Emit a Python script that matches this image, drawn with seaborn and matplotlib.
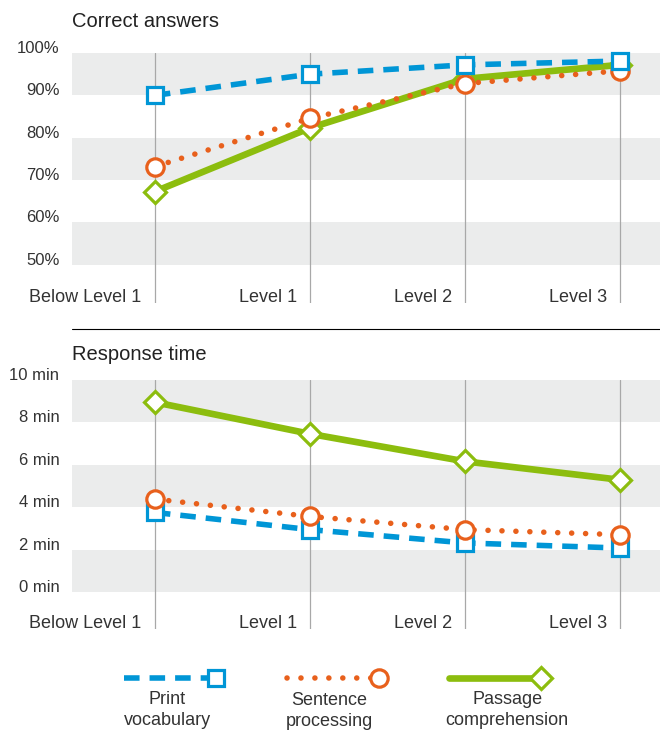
import numpy as np
import seaborn as sns
import matplotlib.pyplot as plt
from matplotlib.lines import Line2D
from matplotlib.legend_handler import HandlerLine2D

levels = ['Below Level 1', 'Level 1', 'Level 2', 'Level 3']
series = ['Print vocabulary', 'Sentence processing', 'Passage comprehension']
legend_labels = ['Print\nvocabulary', 'Sentence\nprocessing', 'Passage\ncomprehension']

# Correct answers (%)
correct_print = [90.0, 95.0, 97.2, 98.1]
correct_sentence = [73.2, 84.6, 92.8, 95.8]
correct_passage = [67.3, 82.3, 93.9, 97.2]

# Response time (min)
time_print = [3.75, 2.94, 2.31, 2.07]
time_sentence = [4.38, 3.56, 2.94, 2.70]
time_passage = [8.95, 7.46, 6.16, 5.29]

pct_ticks = [50, 60, 70, 80, 90, 100]
pct_labels = ['50%', '60%', '70%', '80%', '90%', '100%']
min_ticks = [0, 2, 4, 6, 8, 10]
min_labels = ['0 min', '2 min', '4 min', '6 min', '8 min', '10 min']

sns.set_theme(style='white')
plt.rcParams['font.family'] = ['Liberation Sans', 'DejaVu Sans']
TXT = '#333333'
BAND = '#ebecec'

styles = {
    'Print vocabulary': dict(color='#0096d6', linewidth=4, linestyle=(0, (2.8, 1.8)),
                             marker='s', markersize=11.5),
    'Sentence processing': dict(color='#e8601c', linewidth=4, linestyle=(0, (0.01, 2.5)),
                                marker='o', markersize=12.5, dash_capstyle='round'),
    'Passage comprehension': dict(color='#8cbd0e', linewidth=4.8, linestyle='-',
                                  marker='D', markersize=11),
}

fig = plt.figure(figsize=(6.6, 7.36), dpi=100)
ax1 = fig.add_axes([0.109, 0.5883, 0.891, 0.3397])
ax2 = fig.add_axes([0.109, 0.1454, 0.891, 0.3383])

panels = [
    (ax1, 'Correct answers', [correct_print, correct_sentence, correct_passage],
     pct_ticks, pct_labels, (41.0, 100), [(90, 100), (70, 80), (50, 60)],
     {'Passage comprehension': 3, 'Sentence processing': 4, 'Print vocabulary': 5}, 18.5),
    (ax2, 'Response time', [time_print, time_sentence, time_passage],
     min_ticks, min_labels, (-1.75, 10), [(8, 10), (4, 6), (0, 2)],
     {'Passage comprehension': 3, 'Print vocabulary': 4, 'Sentence processing': 5}, 14.5),
]

for ax, title, values, ticks, tlabels, ylim, bands, zorders, pad in panels:
    for lo, hi in bands:
        ax.axhspan(lo, hi, color=BAND, lw=0, zorder=0)
    for name, vals in zip(series, values):
        st = styles[name]
        sns.lineplot(x=levels, y=vals, ax=ax, sort=False, errorbar=None,
                     markerfacecolor='white', markeredgecolor=st['color'],
                     markeredgewidth=2.3, clip_on=False, zorder=zorders[name], **st)
    ax.set_xlim(-0.535, 3.258)
    ax.set_ylim(*ylim)
    ax.set_yticks(ticks)
    ax.set_yticklabels(tlabels)
    for lbl in ax.get_yticklabels():
        lbl.set_va('baseline')
    ax.tick_params(axis='y', length=0, pad=9, labelsize=12, labelcolor=TXT)
    ax.tick_params(axis='x', length=0, labelbottom=False)
    ax.grid(axis='x', color='#a8a8a8', linewidth=0.9)
    ax.grid(axis='y', visible=False)
    ax.set_axisbelow(True)
    sns.despine(ax=ax, left=True, bottom=True)
    ax.set_xlabel('')
    ax.set_ylabel('')
    for i, lab in enumerate(levels):
        ax.text(i - 0.085, 0.022, lab, transform=ax.get_xaxis_transform(),
                ha='right', va='center', fontsize=13, color=TXT)
    ax.set_title(title, loc='left', fontsize=14.5, color='#222222', pad=pad)

# divider between panels
fig.add_artist(Line2D([0.109, 1.0], [1 - 329 / 736] * 2, transform=fig.transFigure,
                      color='black', linewidth=0.8))


class EndMarker(HandlerLine2D):
    def create_artists(self, *args, **kwargs):
        arts = super().create_artists(*args, **kwargs)
        for a in arts:
            a.set_markevery([2])
        return arts


handles = []
for name in series:
    st = styles[name]
    handles.append(Line2D([], [], markerfacecolor='white', markeredgecolor=st['color'],
                          markeredgewidth=2.3, **st))

leg = fig.legend(handles, ['', '', ''], ncol=3, loc='center',
                 bbox_to_anchor=(0.504, 1 - 680 / 736), frameon=False,
                 handlelength=5.1, handletextpad=0, columnspacing=3.9,
                 numpoints=1, fontsize=13, handler_map={Line2D: EndMarker(numpoints=1)})

# labels sit under each legend key
fig.canvas.draw()
W, H = fig.canvas.get_width_height()
for h, lab, dx in zip(leg.legend_handles, legend_labels, [-3, -3, 12]):
    bb = h.get_window_extent()
    fig.text((bb.x0 + bb.x1) / 2 / W + dx / W, (bb.y0 - 5) / H, lab,
             ha='center', va='top', fontsize=13, color=TXT, linespacing=1.3)

fig.savefig('out.png', dpi=100)
